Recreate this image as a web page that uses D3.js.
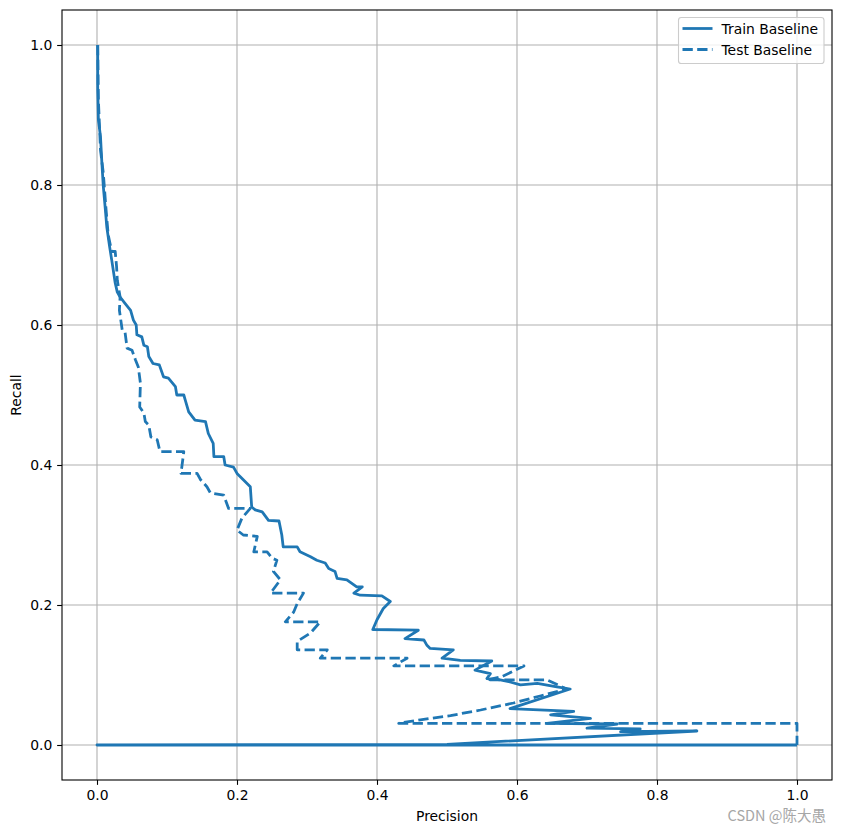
<!DOCTYPE html>
<html>
<head>
<meta charset="utf-8">
<script src="https://cdn.jsdelivr.net/npm/d3@7"></script>
<style>
  body { margin: 0; background: #fff; }
  svg { display: block; font-family: "DejaVu Sans", sans-serif; }
</style>
</head>
<body>
<svg id="chart"></svg>
<script>
const width = 841;
const height = 833;

// precision (x) / recall (y) pairs
const trainPrecision = [0.001, 0.001, 0.002, 0.005, 0.007, 0.009, 0.012, 0.014, 0.018, 0.021,
    0.026, 0.029, 0.033, 0.040, 0.048, 0.052, 0.056, 0.057, 0.064, 0.067,
    0.072, 0.074, 0.080, 0.089, 0.095, 0.102, 0.112, 0.114, 0.124, 0.126,
    0.131, 0.140, 0.155, 0.159, 0.166, 0.167, 0.181, 0.183, 0.195, 0.200,
    0.209, 0.219, 0.221, 0.226, 0.236, 0.245, 0.260, 0.264, 0.266, 0.286,
    0.290, 0.305, 0.314, 0.326, 0.331, 0.340, 0.343, 0.357, 0.371, 0.379,
    0.367, 0.376, 0.407, 0.419, 0.409, 0.400, 0.394, 0.459, 0.440, 0.467,
    0.471, 0.476, 0.509, 0.493, 0.519, 0.564, 0.540, 0.562, 0.557, 0.576,
    0.590, 0.605, 0.629, 0.657, 0.676, 0.590, 0.681, 0.648, 0.705, 0.643,
    0.743, 0.700, 0.776, 0.748, 0.857, 0.500, 0.0, 1.0];
const trainRecall = [1.0, 0.940, 0.893, 0.869, 0.831, 0.798, 0.764, 0.740, 0.712, 0.693,
    0.660, 0.647, 0.640, 0.631, 0.621, 0.607, 0.600, 0.586, 0.583, 0.571,
    0.569, 0.555, 0.545, 0.543, 0.526, 0.524, 0.512, 0.500, 0.500, 0.493,
    0.476, 0.464, 0.462, 0.445, 0.431, 0.412, 0.412, 0.400, 0.397, 0.388,
    0.379, 0.369, 0.340, 0.336, 0.333, 0.321, 0.320, 0.300, 0.283, 0.283,
    0.276, 0.269, 0.264, 0.260, 0.252, 0.248, 0.238, 0.236, 0.226, 0.226,
    0.217, 0.214, 0.213, 0.205, 0.195, 0.179, 0.165, 0.164, 0.152, 0.150,
    0.143, 0.138, 0.136, 0.124, 0.121, 0.120, 0.107, 0.102, 0.095, 0.093,
    0.090, 0.086, 0.088, 0.083, 0.080, 0.052, 0.048, 0.043, 0.038, 0.031,
    0.030, 0.024, 0.023, 0.019, 0.020, 0.001, 0.0, 0.0];

const testPrecision = [0.001, 0.002, 0.004, 0.005, 0.009, 0.013, 0.016, 0.021, 0.026, 0.028,
    0.029, 0.033, 0.032, 0.034, 0.036, 0.040, 0.043, 0.050, 0.055, 0.059,
    0.062, 0.061, 0.067, 0.069, 0.074, 0.077, 0.086, 0.090, 0.124, 0.120,
    0.143, 0.148, 0.157, 0.162, 0.181, 0.188, 0.219, 0.207, 0.200, 0.209,
    0.229, 0.224, 0.243, 0.250, 0.257, 0.252, 0.262, 0.248, 0.295, 0.286,
    0.281, 0.269, 0.319, 0.305, 0.286, 0.286, 0.329, 0.319, 0.443, 0.424,
    0.610, 0.579, 0.557, 0.643, 0.671, 0.633, 0.595, 0.548, 0.505, 0.462,
    0.431, 1.0, 1.0];
const testRecall = [1.0, 0.921, 0.874, 0.850, 0.817, 0.764, 0.729, 0.705, 0.705, 0.683,
    0.664, 0.640, 0.621, 0.607, 0.593, 0.590, 0.567, 0.564, 0.550, 0.540,
    0.517, 0.483, 0.474, 0.462, 0.457, 0.440, 0.436, 0.419, 0.419, 0.388,
    0.388, 0.379, 0.369, 0.360, 0.357, 0.338, 0.338, 0.324, 0.307, 0.300,
    0.298, 0.276, 0.276, 0.267, 0.264, 0.248, 0.236, 0.217, 0.217, 0.202,
    0.190, 0.176, 0.176, 0.160, 0.148, 0.136, 0.136, 0.124, 0.124, 0.113,
    0.113, 0.098, 0.093, 0.093, 0.080, 0.070, 0.060, 0.050, 0.042, 0.036,
    0.031, 0.031, 0.0];

const xTicks = [0.0, 0.2, 0.4, 0.6, 0.8, 1.0];
const yTicks = [0.0, 0.2, 0.4, 0.6, 0.8, 1.0];
const seriesNames = ["Train Baseline", "Test Baseline"];

const color = "#1f77b4";
const lw = 2.78;
const dash = "10.3 4.4";
const fontSize = 13.9;

const margin = { left: 62, top: 10 };
const plotW = 770, plotH = 770;

const svg = d3.select("#chart")
    .attr("width", width)
    .attr("height", height);

const x = d3.scaleLinear().domain([-0.05, 1.05]).range([margin.left, margin.left + plotW]);
const y = d3.scaleLinear().domain([-0.05, 1.05]).range([margin.top + plotH, margin.top]);

// grid
const grid = svg.append("g");
grid.selectAll(".gx").data(xTicks).enter().append("line")
    .attr("x1", d => x(d)).attr("x2", d => x(d))
    .attr("y1", margin.top).attr("y2", margin.top + plotH)
    .attr("stroke", "#b0b0b0").attr("stroke-width", 1.1);
grid.selectAll(".gy").data(yTicks).enter().append("line")
    .attr("y1", d => y(d)).attr("y2", d => y(d))
    .attr("x1", margin.left).attr("x2", margin.left + plotW)
    .attr("stroke", "#b0b0b0").attr("stroke-width", 1.1);

// curves
const line = d3.line().x(d => x(d[0])).y(d => y(d[1]));
const trainData = d3.zip(trainPrecision, trainRecall);
const testData = d3.zip(testPrecision, testRecall);

svg.append("path")
    .datum(trainData)
    .attr("d", line)
    .attr("fill", "none")
    .attr("stroke", color)
    .attr("stroke-width", lw)
    .attr("stroke-linejoin", "round");

svg.append("path")
    .datum(testData)
    .attr("d", line)
    .attr("fill", "none")
    .attr("stroke", color)
    .attr("stroke-width", lw)
    .attr("stroke-linejoin", "round")
    .attr("stroke-dasharray", dash);

// axes
const xAxis = svg.append("g")
    .attr("transform", `translate(0,${margin.top + plotH})`)
    .call(d3.axisBottom(x).tickValues(xTicks).tickFormat(d3.format(".1f"))
        .tickSize(4.86).tickPadding(4.86).tickSizeOuter(0));
const yAxis = svg.append("g")
    .attr("transform", `translate(${margin.left},0)`)
    .call(d3.axisLeft(y).tickValues(yTicks).tickFormat(d3.format(".1f"))
        .tickSize(4.86).tickPadding(4.86).tickSizeOuter(0));
[xAxis, yAxis].forEach(a => {
    a.select(".domain").remove();
    a.selectAll("line").attr("stroke", "#000").attr("stroke-width", 1.1);
    a.selectAll("text").attr("fill", "#000")
        .style("font-family", "'DejaVu Sans', sans-serif")
        .style("font-size", fontSize + "px");
});

// spines
svg.append("rect")
    .attr("x", margin.left).attr("y", margin.top)
    .attr("width", plotW).attr("height", plotH)
    .attr("fill", "none").attr("stroke", "#000").attr("stroke-width", 1.1);

// labels
svg.append("text")
    .attr("x", margin.left + plotW / 2).attr("y", 821)
    .attr("text-anchor", "middle")
    .style("font-size", fontSize + "px")
    .text("Precision");
svg.append("text")
    .attr("transform", `translate(21,${margin.top + plotH / 2}) rotate(-90)`)
    .attr("text-anchor", "middle")
    .style("font-size", fontSize + "px")
    .text("Recall");

// legend
const legend = svg.append("g");
legend.append("rect")
    .attr("x", 678.5).attr("y", 17.5).attr("width", 145.5).attr("height", 46)
    .attr("rx", 2.8)
    .attr("fill", "rgba(255,255,255,0.8)")
    .attr("stroke", "#cccccc").attr("stroke-width", 1.1);
seriesNames.forEach((name, i) => {
    const ly = 28.5 + i * 21;
    legend.append("line")
        .attr("x1", 682.5).attr("x2", 712.5)
        .attr("y1", ly).attr("y2", ly)
        .attr("stroke", color).attr("stroke-width", lw)
        .attr("stroke-dasharray", i === 1 ? dash : null);
    legend.append("text")
        .attr("x", 721.5).attr("y", ly + 5)
        .style("font-size", fontSize + "px")
        .text(name);
});

// watermark
svg.append("text")
    .attr("x", 826).attr("y", 821)
    .attr("text-anchor", "end")
    .attr("fill", "#a6a6a6")
    .style("font-family", "'Noto Sans CJK SC', sans-serif")
    .style("font-size", "14.5px")
    .text("CSDN @陈大愚");
</script>
</body>
</html>
